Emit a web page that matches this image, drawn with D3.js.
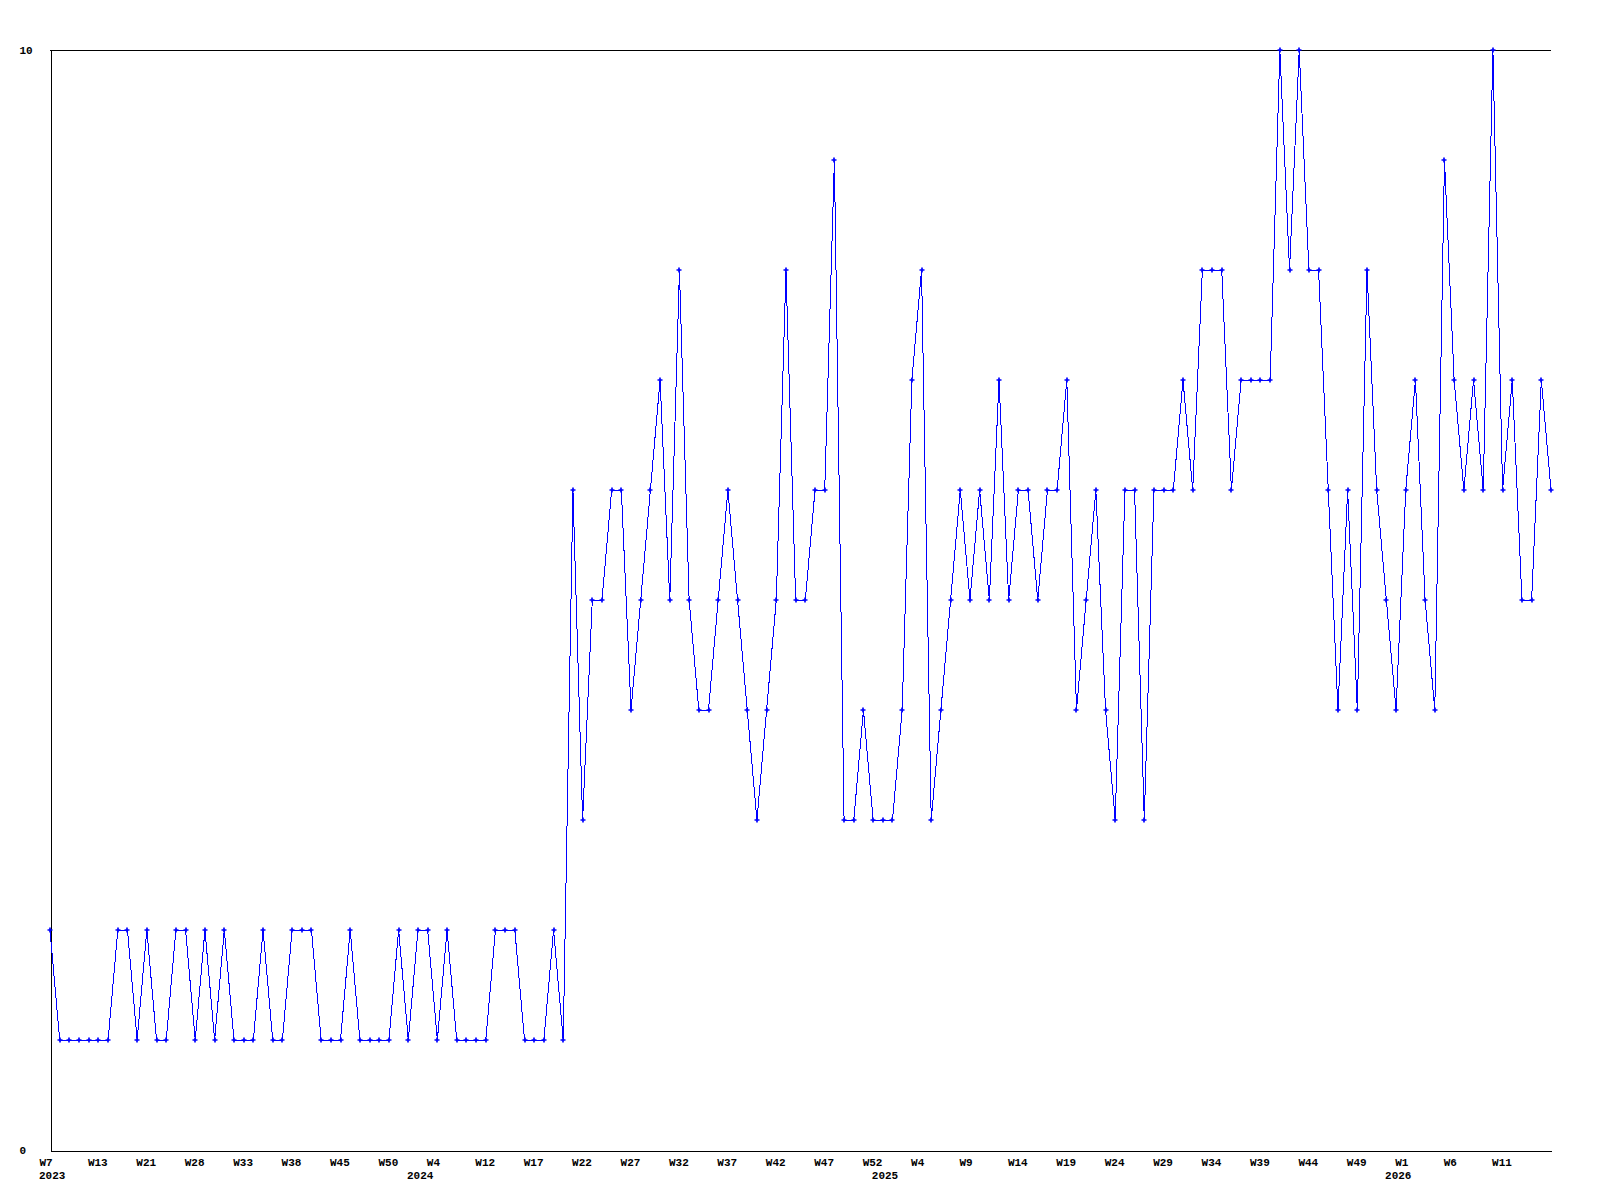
<!DOCTYPE html>
<html>
<head>
<meta charset="utf-8">
<script src="https://cdn.jsdelivr.net/npm/d3@7"></script>
<style>
  html, body { margin: 0; padding: 0; background: #ffffff; }
  svg { display: block; }
  text { font-family: "Liberation Mono", "DejaVu Sans Mono", monospace; font-weight: bold; font-size: 11px; fill: #000; }
</style>
</head>
<body>
<svg id="chart" width="1600" height="1200"></svg>
<script>
// ---- data ----
const values = [
  2,1,1,1,1,1,1,2,2,1, 2,1,1,2,2,1,2,1,2,1,
  1,1,2,1,1,2,2,2,1,1, 1,2,1,1,1,1,2,1,2,2,
  1,2,1,1,1,1,2,2,2,1, 1,1,2,1,6,3,5,5,6,6,
  4,5,6,7,5,8,5,4,4,5, 6,5,4,3,4,5,8,5,5,6,
  6,9,3,3,4,3,3,3,4,7, 8,3,4,5,6,5,6,5,7,5,
  6,6,5,6,6,7,4,5,6,4, 3,6,6,3,6,6,6,7,6,8,
  8,8,6,7,7,7,7,10,8,10, 8,8,6,4,6,4,8,6,5,4,
  6,7,5,4,9,7,6,7,6,10, 6,7,5,5,7,6
];
const weekTickLabels = [
  "W7","W13","W21","W28","W33","W38","W45","W50","W4","W12","W17",
  "W22","W27","W32","W37","W42","W47","W52","W4","W9","W14","W19",
  "W24","W29","W34","W39","W44","W49","W1","W6","W11"
];
const weekTickStep = 5;
const yearLabels = ["2023","2024","2025","2026"];
const yearLabelIndex = [0, 38, 86, 139];
const yTickValues = [0, 10];

// ---- layout ----
const svg = d3.select("#chart");
const plotLeft = 50, plotRight = 1551, plotTop = 50, plotBottom = 1150;

const x = d3.scaleLinear().domain([0, values.length - 1]).range([plotLeft, plotRight]);
const y = d3.scaleLinear().domain([0, 10]).range([plotBottom, plotTop]);

svg.append("rect").attr("width", 1600).attr("height", 1200).attr("fill", "#fff");

// top border
svg.append("line")
  .attr("x1", x.range()[0]).attr("x2", x.range()[1])
  .attr("y1", y(10) + 0.5).attr("y2", y(10) + 0.5)
  .attr("stroke", "#000").attr("stroke-width", 1).attr("shape-rendering", "crispEdges");

// bottom axis (week ticks)
const tickIdx = weekTickLabels.map((d, i) => i * weekTickStep);
const xAxis = d3.axisBottom(x)
  .tickValues(tickIdx)
  .tickSize(0)
  .tickPadding(0)
  .tickFormat((d, i) => weekTickLabels[i]);
const gx = svg.append("g").attr("transform", `translate(0,${plotBottom + 0.5})`).call(xAxis);
gx.select(".domain").attr("stroke", "#000").attr("shape-rendering", "crispEdges");
gx.selectAll(".tick text")
  .attr("text-anchor", "start")
  .attr("x", -11)
  .attr("y", 15.5)
  .attr("dy", null)
  .style("font-family", '"Liberation Mono", monospace')
  .style("font-weight", "bold")
  .style("font-size", "11px")
  .attr("fill", "#000");

// year labels
svg.append("g").selectAll("text")
  .data(yearLabels)
  .join("text")
  .attr("x", (d, i) => x(yearLabelIndex[i]) - 11)
  .attr("y", plotBottom + 29)
  .attr("text-anchor", "start")
  .text(d => d);

// left axis
const yAxis = d3.axisLeft(y).tickValues(yTickValues).tickSize(0).tickPadding(0).tickFormat(d3.format("d"));
const gy = svg.append("g").attr("transform", `translate(${plotLeft + 0.5},0)`).call(yAxis);
gy.select(".domain").attr("stroke", "#000").attr("shape-rendering", "crispEdges");
gy.selectAll(".tick text")
  .attr("text-anchor", "start")
  .attr("x", -31)
  .attr("dy", "0.32em")
  .style("font-family", '"Liberation Mono", monospace')
  .style("font-weight", "bold")
  .style("font-size", "11px")
  .attr("fill", "#000");

// series line
const line = d3.line().x((d, i) => x(i)).y(d => y(d));
svg.append("path")
  .datum(values)
  .attr("d", line)
  .attr("fill", "none")
  .attr("stroke", "#0000ff")
  .attr("stroke-width", 1)
  .attr("shape-rendering", "crispEdges");

// markers
const sym = d3.symbol(d3.symbolCross, 14);
svg.append("g").selectAll("path")
  .data(values)
  .join("path")
  .attr("d", sym)
  .attr("transform", (d, i) => `translate(${Math.round(x(i))},${Math.round(y(d))})`)
  .attr("fill", "#0000ff");
</script>
</body>
</html>
